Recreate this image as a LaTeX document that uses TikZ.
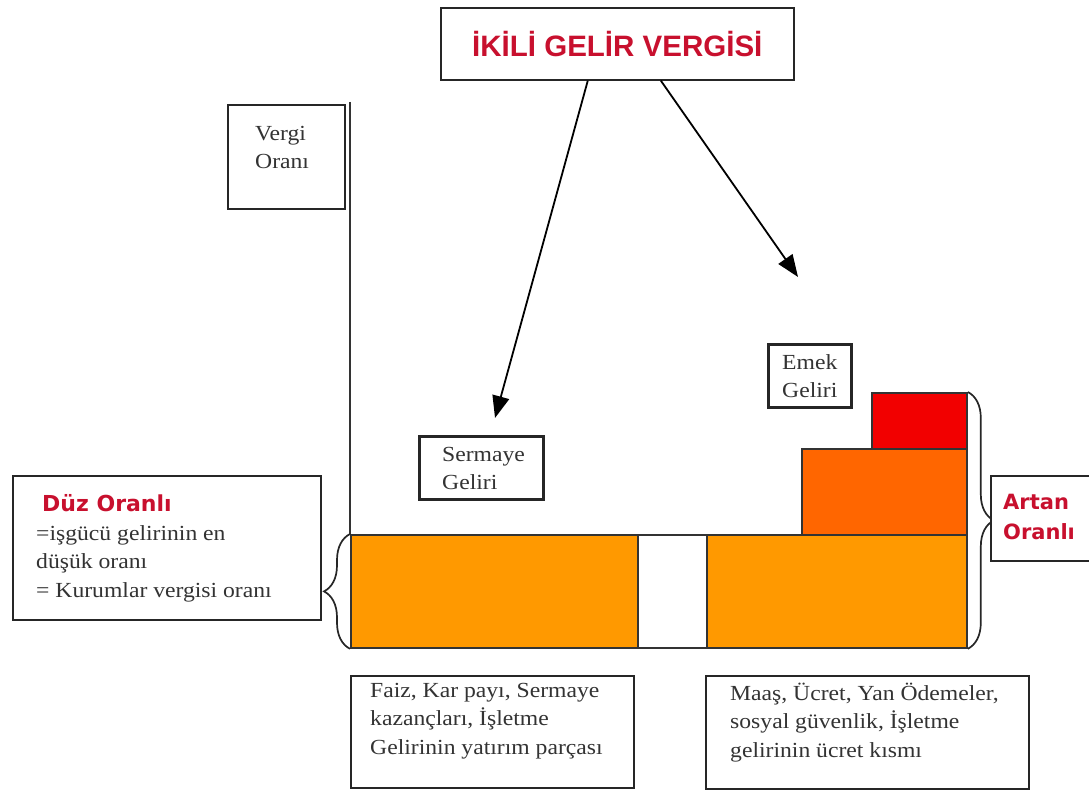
\documentclass[tikz,border=0pt]{standalone}
\usepackage{fontspec}
\setmainfont{Liberation Serif}[FakeStretch=1.1]
\newfontfamily\titlefont{Liberation Sans}
\newfontfamily\redfont{DejaVu Sans}
\usetikzlibrary{arrows.meta,decorations.pathreplacing}
\definecolor{barorange}{HTML}{FF9900}
\definecolor{midorange}{HTML}{FF6600}
\definecolor{topred}{HTML}{F20000}
\definecolor{titlered}{HTML}{C8102E}
\newcommand\fs{\rule{0pt}{21pt}}
\begin{document}
\begin{tikzpicture}[x=1pt,y=-1pt,
  box/.style={draw=black!85, line width=1.6pt, fill=white, inner sep=0pt, anchor=north west},
  thickbox/.style={box, line width=3pt},
  bar/.style={draw=black!80, line width=1.8pt, inner sep=0pt, anchor=north west},
  txt/.style={font=\fontsize{21.5}{28.5}\selectfont, text=black!80, align=left, inner sep=0pt, anchor=north west},
  redtxt/.style={font=\redfont\bfseries\fontsize{21}{30}\selectfont, text=titlered, align=left, inner sep=0pt, anchor=north west},
  arr/.style={-{Triangle[length=22pt,width=17pt]}, line width=1.8pt, draw=black},
  bracestyle/.style={decorate, decoration={brace, amplitude=26pt}, line width=1.7pt, draw=black!85}]
\fill[white] (0,0) rectangle (1089,791);
\useasboundingbox (0,0) rectangle (1089,791);

% title
\node[box, anchor=north west, minimum width=353pt, minimum height=72pt, font=\titlefont\bfseries\fontsize{29.5}{36}\selectfont, text=titlered] (title) at (440,7) {İKİLİ GELİR VERGİSİ};

% vergi orani
\node[box, minimum width=117pt, minimum height=104pt] (vergibox) at (227,104) {};
\node[txt] (vergitxt) at (255,119) {\fs Vergi\\Oranı};
\coordinate (axistop) at (350,102);

% bars
\node[bar, fill=barorange, minimum width=287pt, minimum height=113pt] (bar1) at (350,534) {};
\node[bar, fill=white, minimum width=69pt, minimum height=113pt] (gap) at (637,534) {};
\node[bar, fill=barorange, minimum width=260pt, minimum height=113pt] (bar2) at (706,534) {};
\node[bar, fill=midorange, minimum width=165pt, minimum height=86pt] (bar3) at (801,448) {};
\node[bar, fill=topred, minimum width=95pt, minimum height=56pt] (bar4) at (871,392) {};

\draw[line width=1.5pt, black!80] (axistop) -- (bar1.north west);

% braces
\draw[bracestyle] (bar1.south west) -- (bar1.north west);
\draw[bracestyle] (bar4.north east) -- (bar2.south east);

% duz oranli
\node[box, minimum width=308pt, minimum height=144pt] (duzbox) at (12,475) {};
\node[redtxt, font=\redfont\bfseries\fontsize{22}{30}\selectfont] (duztitle) at (42,490) {\fs Düz Oranlı};
\node[txt] (duztxt) at (36,519) {\fs =işgücü gelirinin en\\düşük oranı\\= Kurumlar vergisi oranı};

% artan oranli
\node[box, minimum width=110pt, minimum height=85pt] (artanbox) at (990,475) {};
\node[redtxt] (artantxt) at (1003,488) {\fs Artan\\Oranlı};

% emek / sermaye
\node[thickbox, minimum width=83pt, minimum height=63pt] (emekbox) at (767,343) {};
\node[txt] (emektxt) at (782,348) {\fs Emek\\Geliri};
\node[thickbox, minimum width=124pt, minimum height=63pt] (sermayebox) at (418,435) {};
\node[txt] (sermayetxt) at (442,440) {\fs Sermaye\\Geliri};

% bottom boxes
\node[box, minimum width=283pt, minimum height=112pt] (faizbox) at (350,675) {};
\node[txt] (faiztxt) at (370,676) {\fs Faiz, Kar payı, Sermaye\\kazançları, İşletme\\Gelirinin yatırım parçası};
\node[box, minimum width=323pt, minimum height=113pt] (maasbox) at (705,675) {};
\node[txt] (maastxt) at (730,679) {\fs Maaş, Ücret, Yan Ödemeler,\\sosyal güvenlik, İşletme\\gelirinin ücret kısmı};

% arrows
\coordinate (sEnd) at (495,418);
\coordinate (eEnd) at (798,277);
\draw[arr] ([xshift=-29.5pt]title.south) -- (sEnd);
\draw[arr] ([xshift=43.5pt]title.south) -- (eEnd);
\end{tikzpicture}
\end{document}
